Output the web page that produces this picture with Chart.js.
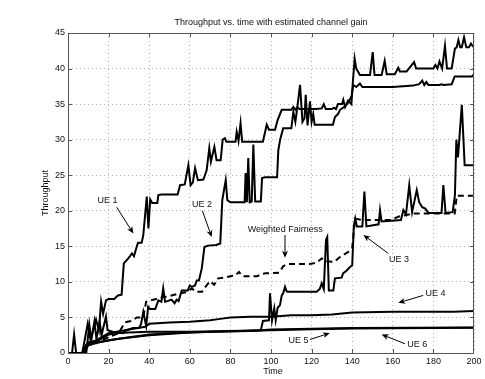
<!DOCTYPE html>
<html>
<head>
<meta charset="utf-8">
<script src="https://cdn.jsdelivr.net/npm/chart.js@4/dist/chart.umd.min.js"></script>
<style>
  html, body { margin: 0; padding: 0; background: #fff; }
  #wrap { width: 485px; height: 379px; }
</style>
</head>
<body>
<div id="wrap"><canvas id="cv" width="485" height="379"></canvas></div>
<script>
// [time, throughput] breakpoints
const ue1 = [[0,0],[2,0],[3,2.6],[4,0],[7,0],[8,1.5],[9.7,4.1],[11,2.0],[12,2.8],[13.8,4.7],[15.2,3.2],[16.3,7.2],[17.3,5.5],[18.7,7.4],[20,7.6],[22.8,7.6],[24.6,8.1],[26.4,8.2],[27.5,12.6],[29.7,13.3],[31.5,14],[32.5,13.6],[33.8,14.9],[34.5,15.5],[36.3,15.5],[37.1,16.6],[38.8,22],[39.6,17.5],[40.5,21.6],[41.5,21.1],[44,21.1],[44.5,22.2],[46,22.3],[54,22.3],[55.2,23.6],[57.5,23.7],[59.3,26.4],[60.4,23.6],[61.5,24],[62.6,26],[64,24.3],[66.7,24.4],[68.3,25.7],[69.6,28.8],[70.4,26.9],[72.1,29],[73.2,27.1],[75.2,27.1],[76.2,30],[77.3,30.2],[78,29.7],[82.5,29.7],[83.1,31.1],[84,29.8],[85,32.3],[85.8,29.7],[96,29.7],[97.9,32.1],[99,31.4],[102,31.4],[103.3,32.8],[105.3,34.2],[110,34.2],[111,34.6],[112,34.2],[113,34.6],[114,34.3],[122,34.3],[125,34.4],[126,35],[127,34.3],[130,34.3],[131,34.5],[132,34.3],[133,35],[135,35],[135.6,35.6],[136.5,34.6],[138,35.5],[139.6,35],[140.3,38],[141.2,41.4],[142,40],[143.8,39.1],[148.8,39.1],[150.1,42.3],[151,39.1],[154.5,39.1],[156,41.1],[157,39.2],[161,39.2],[162.7,40.1],[163.5,39.6],[166.8,39.6],[170.5,40.9],[171.5,40],[180,40],[181,40.5],[182,40],[183,41],[184.3,40],[185.7,43.2],[186.7,40],[189,40],[190.6,42.8],[191.5,43],[192.3,44],[193.2,43],[194,43],[195.1,44.4],[196.2,43],[197.5,43],[198.5,43.5],[199.3,43.2],[200,43]];
const ue2 = [[0,0],[9,0],[10.5,4.0],[11.5,1.8],[13,4.4],[14,2.0],[15.6,4.4],[16.5,2.5],[18.7,5.1],[19.5,3.2],[22,3.0],[27,2.8],[28,3.1],[32,3.5],[35,3.5],[36,4.1],[37.1,5.8],[38.5,3.8],[39.5,6.5],[40.4,6.2],[43,6.2],[44.5,7.4],[46,7.2],[46.9,9.1],[47.8,7.2],[49,7.3],[51,7.5],[52.5,7.0],[53.5,7.5],[54.5,7.3],[56,8.8],[59,8.8],[60,9.5],[61,9.3],[62.6,9.5],[63.4,10.2],[64.5,10.2],[65.9,11.9],[67.2,14.9],[69,15.1],[73,15.2],[75,15.4],[76,21.5],[77.7,24.3],[78.5,21.5],[80,21.2],[87,21.2],[87.5,25.3],[88.1,21.2],[88.8,27.4],[89.5,21.2],[90.5,21.3],[91.3,29.3],[92.2,21.3],[95,21.3],[95.6,24.6],[97,24.7],[103,24.7],[103.6,28.5],[104.5,30],[106,31.6],[110,31.6],[111,33.9],[112,32.5],[113,34.6],[114.3,37.7],[115.5,32.5],[116.5,33],[117.1,36.3],[118,32],[119.2,35.4],[120,32.5],[120.8,33.6],[121.5,32.1],[130.5,32.1],[131.5,33.2],[133,33.6],[134,34.2],[136,34.6],[138,35.2],[139.7,36.1],[140.5,37.7],[142,37.4],[143.8,37.9],[145,37.4],[160,37.4],[165,37.5],[170,37.6],[173,37.8],[174.5,38.3],[175.5,37.7],[176.5,38.1],[177.5,37.7],[183,37.7],[184,37.8],[185,37.7],[189,37.8],[190.5,38.9],[199,38.9],[200,39.2]];
const ue3 = [[0,0],[7,0],[10,1.5],[15,1.8],[20,2.6],[25,2.8],[30,2.9],[40,3.0],[60,3.0],[80,3.1],[95,3.2],[96,4.5],[99,4.6],[99.5,8.4],[100.5,4.6],[101.6,6.3],[102.3,4.6],[103.3,6.4],[104.4,6.7],[105.3,8.1],[106,8.4],[106.9,9.3],[107.5,8.8],[108,8.6],[122.5,8.6],[124,9.0],[125,9.8],[126,9.0],[127.1,15.9],[127.7,16.3],[128.5,8.8],[130.7,8.8],[131.5,10.5],[134.8,10.6],[135.5,11.2],[137.3,11.6],[138.9,12.1],[140,12.3],[140.8,17.8],[141.5,18.9],[142.3,17.8],[145,17.8],[146,22.7],[147,17.8],[153,18.1],[153.7,20.1],[154.5,18.5],[164,18.7],[165.2,20.1],[166.5,19.5],[168.1,23.6],[169.5,19.8],[171.8,22.9],[173,21.2],[174.5,20.5],[176,20.3],[177.5,19.7],[184,19.7],[184.9,23.6],[186,19.7],[189.5,19.8],[190.6,22.2],[191.3,30],[192.1,27.5],[193,31],[194,34.9],[195.4,26.4],[200,26.4]];
const ue4 = [[0,0],[7,0],[9,1.2],[12,1.5],[15,2.0],[20,2.8],[30,3.3],[38,3.7],[40,4.1],[50,4.3],[60,4.4],[70,4.6],[75,4.8],[80,5.0],[90,5.1],[100,5.1],[110,5.3],[120,5.3],[130,5.4],[140,5.7],[160,5.8],[190,5.8],[200,5.9]];
const ue5 = [[0,0],[7,0],[9,1.0],[12,1.3],[20,1.8],[32,2.3],[40,2.6],[53,2.8],[70,3.0],[90,3.1],[100,3.3],[120,3.4],[140,3.5],[200,3.6]];
const ue6 = [[0,0],[8,0],[10,1.1],[15,1.5],[25,2.0],[40,2.5],[60,2.9],[80,3.05],[100,3.2],[120,3.35],[140,3.45],[200,3.55]];
const fair = [[0,0],[7,0],[10,1.2],[15,1.6],[20,2.2],[25,2.8],[28,4.3],[31,4.5],[34,5.0],[37,5.0],[38.5,7.2],[42,7.5],[46,7.8],[50,8.0],[55,8.4],[59,8.6],[61,9.1],[63,8.6],[66,8.6],[68,9.4],[70,10.1],[72,9.6],[74,10.5],[77,10.6],[80,10.8],[82.5,10.9],[84.2,11.4],[86,10.8],[93,10.8],[97,11.2],[104,11.3],[106,12.2],[108,12.5],[119,12.5],[122.5,12.7],[125,13.3],[127,12.9],[131,12.8],[134,13.5],[138,14.2],[140,14.8],[141.4,18.9],[145,18.7],[159,18.7],[163,19.2],[170,19.6],[190.5,19.6],[191.5,22.1],[200,22.1]];

// text arrows: label at [t,v], arrow from -> to in data units
const notes = [
  { text: "UE 1", at: [19.5, 21.4], from: [24, 20.5], to: [32.2, 16.8] },
  { text: "UE 2", at: [66, 20.9], from: [66.2, 20], to: [70.8, 16.3] },
  { text: "Weighted Fairness", at: [107, 17.3], from: [106.9, 16.6], to: [106.9, 13.4] },
  { text: "UE 3", at: [163, 13.2], from: [157.8, 14], to: [145.5, 16.6] },
  { text: "UE 4", at: [181, 8.3], from: [175, 8.1], to: [162.7, 7.05] },
  { text: "UE 5", at: [113.5, 1.8], from: [119.2, 1.9], to: [129, 2.8] },
  { text: "UE 6", at: [172, 1.2], from: [166, 1.3], to: [154.5, 2.6] },
];

const FONT = "9px 'Liberation Sans', Arial, sans-serif";
const pts = a => a.map(p => ({ x: p[0], y: p[1] }));
const line = (label, arr, dash) => ({ label, data: pts(arr), borderColor: "#000", borderWidth: 2,
  borderDash: dash || [], pointRadius: 0, tension: 0, fill: false });

const frame = {
  id: "frame",
  afterDraw(chart) {
    const { ctx, chartArea: a, scales: { x, y } } = chart;
    ctx.save();
    // box + inward ticks
    ctx.strokeStyle = "#555"; ctx.lineWidth = 1;
    ctx.strokeRect(a.left + 0.5, a.top + 0.5, a.right - a.left - 1, a.bottom - a.top);
    ctx.beginPath();
    for (let t = 20; t < 200; t += 20) {
      const px = Math.round(x.getPixelForValue(t)) + 0.5;
      ctx.moveTo(px, a.bottom); ctx.lineTo(px, a.bottom - 4);
      ctx.moveTo(px, a.top); ctx.lineTo(px, a.top + 4);
    }
    for (let v = 5; v < 45; v += 5) {
      const py = Math.round(y.getPixelForValue(v)) + 0.5;
      ctx.moveTo(a.left, py); ctx.lineTo(a.left + 4, py);
      ctx.moveTo(a.right, py); ctx.lineTo(a.right - 4, py);
    }
    ctx.stroke();
    // titles
    ctx.fillStyle = "#111"; ctx.font = FONT; ctx.textAlign = "center"; ctx.textBaseline = "middle";
    ctx.fillText("Throughput vs. time with estimated channel gain", (a.left + a.right) / 2, 23);
    ctx.fillText("Time", (a.left + a.right) / 2 + 2, 372);
    ctx.save(); ctx.translate(46, (a.top + a.bottom) / 2); ctx.rotate(-Math.PI / 2);
    ctx.fillText("Throughput", 0, 0); ctx.restore();
    // annotations
    notes.forEach(n => {
      ctx.fillStyle = "#111";
      ctx.fillText(n.text, x.getPixelForValue(n.at[0]), y.getPixelForValue(n.at[1]));
      const x0 = x.getPixelForValue(n.from[0]), y0 = y.getPixelForValue(n.from[1]);
      const x1 = x.getPixelForValue(n.to[0]), y1 = y.getPixelForValue(n.to[1]);
      const ang = Math.atan2(y1 - y0, x1 - x0), L = 7, W = 3;
      ctx.strokeStyle = "#000"; ctx.lineWidth = 1;
      ctx.beginPath(); ctx.moveTo(x0, y0); ctx.lineTo(x1 - Math.cos(ang) * 4, y1 - Math.sin(ang) * 4); ctx.stroke();
      ctx.fillStyle = "#000";
      ctx.beginPath();
      ctx.moveTo(x1, y1);
      ctx.lineTo(x1 - L * Math.cos(ang) + W * Math.sin(ang), y1 - L * Math.sin(ang) - W * Math.cos(ang));
      ctx.lineTo(x1 - 5 * Math.cos(ang), y1 - 5 * Math.sin(ang));
      ctx.lineTo(x1 - L * Math.cos(ang) - W * Math.sin(ang), y1 - L * Math.sin(ang) + W * Math.cos(ang));
      ctx.closePath(); ctx.fill();
    });
    ctx.restore();
  }
};

const tickFont = { family: "'Liberation Sans', Arial, sans-serif", size: 9 };
new Chart(document.getElementById("cv"), {
  type: "line",
  data: { datasets: [
    line("UE 1", ue1), line("UE 2", ue2), line("UE 3", ue3), line("UE 4", ue4),
    line("UE 5", ue5), line("UE 6", ue6), line("Weighted Fairness", fair, [6, 4]) ] },
  options: {
    responsive: false, animation: false, devicePixelRatio: 1,
    layout: { padding: { left: 0, right: 11, top: 33, bottom: 0 } },
    plugins: { legend: { display: false }, title: { display: false }, tooltip: { enabled: false } },
    scales: {
      x: { type: "linear", min: 0, max: 200,
        ticks: { stepSize: 20, color: "#111", font: tickFont, padding: 3, maxRotation: 0 },
        grid: { color: "#b4b4b4", drawTicks: false, lineWidth: 1 },
        border: { display: false, dash: [1, 3] },
        afterFit(s) { s.height = 26; } },
      y: { min: 0, max: 45,
        ticks: { stepSize: 5, color: "#111", font: tickFont, padding: 3 },
        grid: { color: "#b4b4b4", drawTicks: false, lineWidth: 1 },
        border: { display: false, dash: [1, 3] },
        afterFit(s) { s.width = 68; } }
    }
  },
  plugins: [frame]
});
</script>
</body>
</html>
